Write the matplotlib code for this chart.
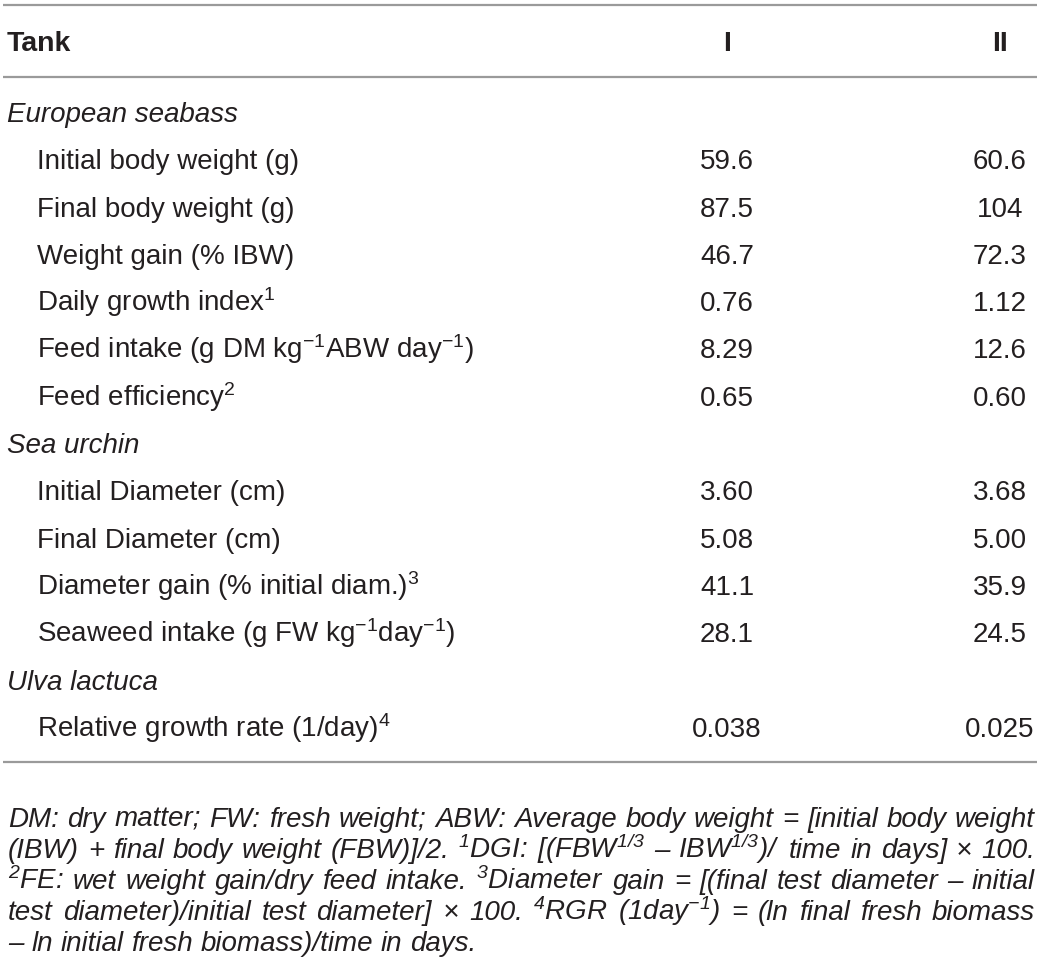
import matplotlib
matplotlib.use("Agg")
import matplotlib.pyplot as plt

plt.rcParams['font.family'] = ['Liberation Sans', 'DejaVu Sans']
plt.rcParams['mathtext.fontset'] = 'custom'
plt.rcParams['mathtext.rm'] = 'Liberation Sans'
plt.rcParams['mathtext.it'] = 'Liberation Sans:italic'
plt.rcParams['mathtext.bf'] = 'Liberation Sans:bold'
plt.rcParams['mathtext.default'] = 'regular'

# table content
col_head = ["Tank", "I", "II"]
groups = ["European seabass", "Sea urchin", "Ulva lactuca"]
group_rows = [6, 4, 1]
row_labels = [
    "Initial body weight (g)",
    "Final body weight (g)",
    "Weight gain (% IBW)",
    "Daily growth index$^{1}$",
    "Feed intake (g DM kg$^{-1}$ABW day$^{-1}$)",
    "Feed efficiency$^{2}$",
    "Initial Diameter (cm)",
    "Final Diameter (cm)",
    "Diameter gain (% initial diam.)$^{3}$",
    "Seaweed intake (g FW kg$^{-1}$day$^{-1}$)",
    "Relative growth rate (1/day)$^{4}$",
]
tank_I = ["59.6", "87.5", "46.7", "0.76", "8.29", "0.65",
          "3.60", "5.08", "41.1", "28.1", "0.038"]
tank_II = ["60.6", "104", "72.3", "1.12", "12.6", "0.60",
           "3.68", "5.00", "35.9", "24.5", "0.025"]

footnote = [
    "DM: dry matter; FW: fresh weight; ABW: Average body weight = [initial body weight",
    "(IBW) + final body weight (FBW)]/2. $^{1}$DGI: [(FBW$^{1/3}$ – IBW$^{1/3}$)/ time in days] × 100.",
    "$^{2}$FE: wet weight gain/dry feed intake. $^{3}$Diameter gain = [(final test diameter – initial",
    "test diameter)/initial test diameter] × 100. $^{4}$RGR (1day$^{-1}$) = (ln final fresh biomass",
    "– ln initial fresh biomass)/time in days.",
]

W, H = 1040, 961
fig = plt.figure(figsize=(W / 100, H / 100), dpi=100)
ax = fig.add_axes([0, 0, 1, 1])
ax.set_xlim(0, W)
ax.set_ylim(H, 0)
ax.axis('off')

txt = '#231f20'
line_c = '#9a9a9a'
fs = 20
ffs = 20
x_lab, x_ind = 7, 37
x_I, x_II = 727, 1000

for y in (5, 77, 762):
    ax.plot([3, 1037], [y, y], color=line_c, lw=1.6, solid_capstyle='butt')

# header
hb = 51
ax.text(x_lab, hb, col_head[0], fontsize=fs + 0.5, fontweight='bold', color=txt)
ax.text(x_I, hb, col_head[1], fontsize=fs + 0.5, fontweight='bold', color=txt, ha='center')
ax.text(x_II, hb, col_head[2], fontsize=fs + 0.5, fontweight='bold', color=txt, ha='center')

# body rows
y0, dy, off = 112, 47.3, 10
k = 0
r = 0
for g, n in zip(groups, group_rows):
    ax.text(x_lab, y0 + k * dy + off, g, fontsize=fs, style='italic', color=txt)
    k += 1
    for _ in range(n):
        yb = y0 + k * dy + off
        ax.text(x_ind, yb, row_labels[r], fontsize=fs, color=txt)
        ax.text(x_I, yb, tank_I[r], fontsize=fs, color=txt, ha='center')
        ax.text(x_II, yb, tank_II[r], fontsize=fs, color=txt, ha='center')
        k += 1
        r += 1

# justified footnote
fig.canvas.draw()
renderer = fig.canvas.get_renderer()
fx0, fx1 = 8, 1035
fy0, fdy = 827, 31
for i, line in enumerate(footnote):
    words = line.split(' ')
    yb = fy0 + i * fdy
    items = [ax.text(0, yb, w, fontsize=ffs, style='italic', color=txt) for w in words]
    widths = [t.get_window_extent(renderer).width for t in items]
    if i == len(footnote) - 1:
        gap = 0.278 * ffs * 100 / 72
    else:
        gap = (fx1 - fx0 - sum(widths)) / (len(words) - 1)
    x = fx0
    for t, w in zip(items, widths):
        t.set_x(x)
        x += w + gap

fig.savefig('out.png', dpi=100)
